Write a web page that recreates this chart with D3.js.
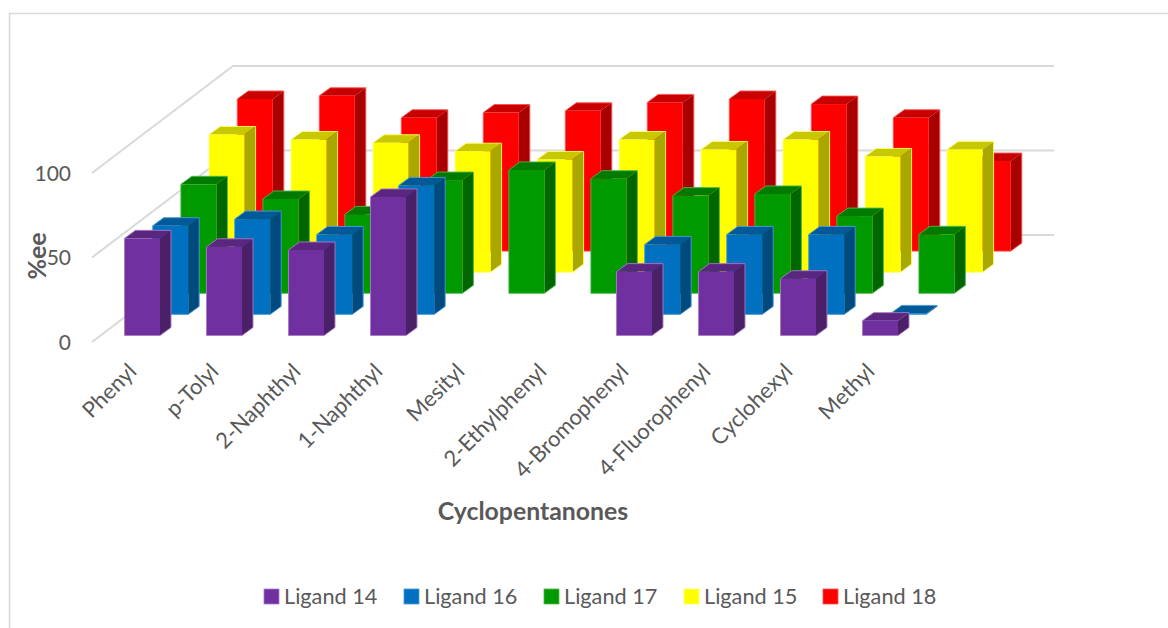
<!DOCTYPE html>
<html>
<head>
<meta charset="utf-8">
<script src="https://cdn.jsdelivr.net/npm/d3@7"></script>
<style>
	html, body { margin: 0; padding: 0; background: #fff; }
	svg { display: block; }
	text { font-family: Lato, "Open Sans", sans-serif; fill: #595959; }
</style>
</head>
<body>
<div id="chart"></div>
<script>
// categorias y valores (null = sin barra)
var categories = ['Phenyl', 'p-Tolyl', '2-Naphthyl', '1-Naphthyl', 'Mesityl', '2-Ethylphenyl', '4-Bromophenyl', '4-Fluorophenyl', 'Cyclohexyl', 'Methyl'];
var seriesNames = ['Ligand 14', 'Ligand 16', 'Ligand 17', 'Ligand 15', 'Ligand 18'];
var ligand14 = [57.5, 52.5, 50.6, 82, null, null, 37.8, 37.8, 33.6, 8.8];
var ligand16 = [52.5, 56.4, 47.3, 76.3, null, null, 41.4, 47.3, 47.3, 0.6];
var ligand17 = [64.5, 55.8, 46.7, 67, 73, 67.8, 57.8, 58.8, 45.7, 34.9];
var ligand15 = [81.5, 78.5, 76.6, 71.6, 66.7, 78.5, 72.6, 78.5, 68.5, 72.6];
var ligand18 = [90, 91.9, 78.9, 82, 83, 88, 90, 87, 78.9, 53.3];
var seriesValues = [ligand14, ligand16, ligand17, ligand15, ligand18];
var yTicks = [0, 50, 100];

// colores: frente, arriba, lateral, borde
var front = ['#7030A0', '#0070C0', '#009900', '#FFFF00', '#FF0000'];
var top3d = ['#5A2680', '#005A9A', '#007A00', '#C8C800', '#C80000'];
var side = ['#4A2068', '#004A80', '#006600', '#A8A800', '#A80000'];
var edge = ['#A67CC6', '#4D9BD3', '#4DB84D', '#FFFF66', '#FF5050'];

var width = 1168,
	height = 628,
	barWidth = 35.5,
	barDepthX = 11,
	barDepthY = 8,
	wallX = 92,		// inicio de las lineas del suelo
	backX = 233,	// esquina de la pared del fondo
	endX = 1054,
	floorShift = 107;

var svg = d3.select('#chart').append('svg')
	.attr('width', width)
	.attr('height', height);

// marco del grafico
svg.append('path')
	.attr('d', d3.line()([[9.5, height], [9.5, 13.5], [width, 13.5]]))
	.attr('fill', 'none')
	.attr('stroke', '#D9D9D9')
	.attr('stroke-width', 1.6);

// escalas
var x = d3.scalePoint().domain(categories).range([124.5, 862.5]);
var depth = d3.scalePoint().domain(seriesNames).range([0, 1]);
var depthX = function (s) { return depth(s) * 112.8; };
var depthY = function (s) { return 335.5 - depth(s) * 84.4; };
var h = d3.scaleLinear().domain([0, 100]).range([0, 169]);
var yAxisScale = d3.scaleLinear().domain([0, 100]).range([342, 173]);

// lineas de division (pared lateral + pared del fondo)
svg.append('g').selectAll('path')
	.data(yTicks)
	.enter()
	.append('path')
		.attr('d', function (d) {
			var y0 = yAxisScale(d);
			return d3.line()([[wallX, y0], [backX, y0 - floorShift], [endX, y0 - floorShift]]);
		})
		.attr('fill', 'none')
		.attr('stroke', '#D9D9D9')
		.attr('stroke-width', 2);

// eje de valores
var yAxis = svg.append('g')
	.attr('transform', 'translate(78,0.7)')
	.call(d3.axisLeft(yAxisScale).tickValues(yTicks).tickSize(0).tickPadding(7));
yAxis.select('.domain').remove();
yAxis.selectAll('text')
	.style('font-family', 'Lato, "Open Sans", sans-serif')
	.style('font-size', '21px')
	.style('fill', '#595959');

// barras: de la serie del fondo hacia la del frente
var order = d3.range(seriesNames.length).reverse();
order.forEach(function (si) {
	var name = seriesNames[si];
	var rows = categories
		.map(function (c, i) { return { cat: c, value: seriesValues[si][i] }; })
		.filter(function (d) { return d.value !== null; });

	var bars = svg.append('g').attr('class', 'serie').selectAll('g')
		.data(rows)
		.enter()
		.append('g');

	var geom = function (d) {
		var x0 = x(d.cat) + depthX(name),
			x1 = x0 + barWidth,
			y0 = depthY(name),
			y1 = y0 - h(d.value);
		return { x0: x0, x1: x1, y0: y0, y1: y1 };
	};

	// cara superior
	bars.append('path')
		.attr('fill', top3d[si])
		.attr('d', function (d) {
			var g = geom(d);
			return d3.line()([[g.x0, g.y1], [g.x0 + barDepthX, g.y1 - barDepthY], [g.x1 + barDepthX, g.y1 - barDepthY], [g.x1, g.y1]]) + 'Z';
		});

	// cara lateral
	bars.append('path')
		.attr('fill', side[si])
		.attr('d', function (d) {
			var g = geom(d);
			return d3.line()([[g.x1, g.y1], [g.x1 + barDepthX, g.y1 - barDepthY], [g.x1 + barDepthX, g.y0 - barDepthY], [g.x1, g.y0]]) + 'Z';
		});

	// frente
	bars.append('rect')
		.attr('fill', front[si])
		.attr('x', function (d) { return geom(d).x0; })
		.attr('y', function (d) { return geom(d).y1; })
		.attr('width', barWidth)
		.attr('height', function (d) { return h(d.value); });

	// contorno claro de la barra
	bars.append('path')
		.attr('fill', 'none')
		.attr('stroke', edge[si])
		.attr('stroke-width', 0.9)
		.attr('stroke-linejoin', 'round')
		.attr('d', function (d) {
			var g = geom(d);
			return d3.line()([[g.x0, g.y0], [g.x0, g.y1], [g.x0 + barDepthX, g.y1 - barDepthY], [g.x1 + barDepthX, g.y1 - barDepthY], [g.x1 + barDepthX, g.y0 - barDepthY], [g.x1, g.y0]]) + 'Z';
		});
});

// eje de categorias
var xAxis = svg.append('g')
	.attr('transform', 'translate(2,362)')
	.call(d3.axisBottom(x).tickSize(0).tickPadding(0));
xAxis.select('.domain').remove();
xAxis.selectAll('text')
	.style('font-family', 'Lato, "Open Sans", sans-serif')
	.style('font-size', '22px')
	.style('fill', '#595959')
	.attr('text-anchor', 'end')
	.attr('dy', '0.7em')
	.attr('transform', 'rotate(-45)');

// titulos de los ejes
svg.append('text')
	.attr('x', 533)
	.attr('y', 520)
	.attr('text-anchor', 'middle')
	.style('font-size', '24.8px')
	.style('font-weight', 'bold')
	.text('Cyclopentanones');

svg.append('text')
	.attr('transform', 'translate(46,256) rotate(-90)')
	.attr('text-anchor', 'middle')
	.style('font-size', '25px')
	.style('font-weight', 'bold')
	.text('%ee');

// leyenda
var legendX = [264, 404, 544, 684, 823];
var legend = svg.append('g').selectAll('g')
	.data(seriesNames)
	.enter()
	.append('g')
		.attr('transform', function (d, i) { return 'translate(' + legendX[i] + ',589)'; });
legend.append('rect')
	.attr('width', 15)
	.attr('height', 15)
	.attr('fill', function (d, i) { return front[i]; })
	.attr('stroke', function (d, i) { return edge[i]; })
	.attr('stroke-width', 0.8);
legend.append('text')
	.attr('x', 20)
	.attr('y', 15)
	.style('font-size', '21.7px')
	.text(function (d) { return d; });
</script>
</body>
</html>
